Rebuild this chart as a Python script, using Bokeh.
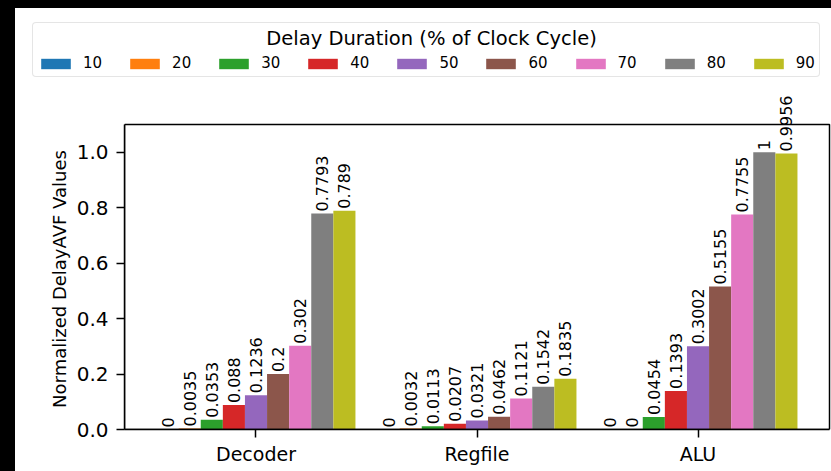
from math import pi
from bokeh.plotting import figure
from bokeh.layouts import column
from bokeh.core.properties import value
from bokeh.models import (ColumnDataSource, Range1d, FixedTicker, NumeralTickFormatter,
                          LabelSet, Legend, LegendItem, BoxAnnotation)
from bokeh.transform import dodge
from bokeh.embed import file_html
from bokeh.resources import INLINE
try:
    from bokeh.models import GlobalInlineStyleSheet
except Exception:
    GlobalInlineStyleSheet = None

# ---------------- data ----------------
categories = ["Decoder", "Regfile", "ALU"]
delay_labels = ["10", "20", "30", "40", "50", "60", "70", "80", "90"]
d10 = [0, 0, 0]
d20 = [0.0035, 0.0032, 0]
d30 = [0.0353, 0.0113, 0.0454]
d40 = [0.088, 0.0207, 0.1393]
d50 = [0.1236, 0.0321, 0.3002]
d60 = [0.2, 0.0462, 0.5155]
d70 = [0.302, 0.1121, 0.7755]
d80 = [0.7793, 0.1542, 1.0]
d90 = [0.789, 0.1835, 0.9956]
series = [d10, d20, d30, d40, d50, d60, d70, d80, d90]
colors = ["#1f77b4", "#ff7f0e", "#2ca02c", "#d62728", "#9467bd",
          "#8c564b", "#e377c2", "#7f7f7f", "#bcbd22"]
y_ticks = [0.0, 0.2, 0.4, 0.6, 0.8, 1.0]
legend_title = "Delay Duration (% of Clock Cycle)"
y_label = "Normalized DelayAVF Values"

FONT = "DejaVu Sans"
X_LO, X_HI = -0.595, 2.595      # axes box limits (categories at 0, 1, 2)
Y_LO, Y_HI = 0.0, 1.1

x_idx = list(range(len(categories)))
bar_w = 0.1
n = len(series)
sources = [ColumnDataSource(dict(x=x_idx, top=vals, text=[f"{v:g}" for v in vals]))
           for vals in series]
offsets = [(i - (n - 1) / 2) * bar_w for i in range(n)]

# ---------------- legend strip (top) ----------------
top = figure(width=831, height=85, output_backend="svg", toolbar_location=None,
             x_range=Range1d(X_LO, 2.604), y_range=Range1d(10, 11),
             x_axis_location=None, y_axis_location=None,
             min_border=0, border_fill_color=None, background_fill_color=None)
top.outline_line_color = None
top.xgrid.visible = False
top.ygrid.visible = False
handles = []
for src, off, lab, col in zip(sources, offsets, delay_labels, colors):
    # legend handles share the bar data; the strip's y range keeps them out of view
    h = top.vbar(x=dodge("x", off), top="top", width=bar_w, source=src,
                 fill_color=col, line_color=None)
    handles.append(LegendItem(label=lab, renderers=[h]))
legend = Legend(items=handles, orientation="horizontal", location=(32, 8),
                title="\u00a0" * 37 + legend_title,
                title_text_font=FONT, title_text_font_size="19.5px", title_text_color="black",
                title_text_font_style="normal", title_standoff=4,
                glyph_width=37, glyph_height=13, label_standoff=9, label_width=18,
                spacing=24, padding=4, margin=0,
                label_text_font=FONT, label_text_font_size="15px", label_text_color="black",
                border_line_color="#cccccc", border_line_width=1,
                background_fill_color="white", background_fill_alpha=0.8)
if "border_radius" in legend.properties():
    legend.border_radius = 4
top.add_layout(legend)

# ---------------- main chart ----------------
p = figure(width=831, height=386, output_backend="svg", toolbar_location=None,
           x_range=Range1d(X_LO, 2.604), y_range=Range1d(Y_LO, 1.23),
           min_border_left=124, min_border_right=0, min_border_top=3, min_border_bottom=42,
           border_fill_color=None, background_fill_color="white")
p.outline_line_color = None
p.xgrid.visible = False
p.ygrid.visible = False

for f in (top, p):
    if "frame_align" in f.properties():
        f.frame_align = False

p.add_layout(BoxAnnotation(left=X_LO, right=X_HI, bottom=Y_LO, top=Y_HI,
                           fill_color=None, line_color="black", line_alpha=1.0,
                           line_width=1.5))

for src, off, col in zip(sources, offsets, colors):
    p.vbar(x=dodge("x", off), top="top", width=bar_w, source=src,
           fill_color=col, line_color=None)
    p.add_layout(LabelSet(x=dodge("x", off), y="top", text="text", source=src, angle=pi / 2,
                          text_align="left", text_baseline="middle", y_offset=2,
                          text_font_size=value("16px"), text_font=value(FONT),
                          text_color="black"))

for ax in (p.xaxis[0], p.yaxis[0]):
    ax.axis_line_color = "black"
    ax.axis_line_width = 1.5
    ax.major_tick_line_color = "black"
    ax.major_tick_line_width = 1.5
    ax.major_tick_out = 8
    ax.major_tick_in = 0
    ax.minor_tick_out = 0
    ax.minor_tick_in = 0
    ax.major_label_text_font = FONT
    ax.major_label_text_color = "black"

p.xaxis.bounds = (X_LO, X_HI)
p.xaxis.ticker = FixedTicker(ticks=x_idx)
p.xaxis.major_label_overrides = {i: c for i, c in enumerate(categories)}
p.xaxis.major_label_text_font_size = "19px"
p.xaxis.major_label_standoff = 5

p.yaxis.bounds = (Y_LO, Y_HI)
p.yaxis.ticker = FixedTicker(ticks=y_ticks)
p.yaxis.formatter = NumeralTickFormatter(format="0.0")
p.yaxis.major_label_text_font_size = "20px"
p.yaxis.major_label_standoff = 8
p.yaxis.axis_label = y_label + "\u00a0" * 7
p.yaxis.axis_label_text_font = FONT
p.yaxis.axis_label_text_font_size = "18px"
p.yaxis.axis_label_text_font_style = "normal"
p.yaxis.axis_label_text_color = "black"
p.yaxis.axis_label_standoff = 4

layout = column(top, p, spacing=0)
if GlobalInlineStyleSheet is not None:
    p.stylesheets = [GlobalInlineStyleSheet(css=(
        "html{background:linear-gradient(to right,#000 0,#000 15px,transparent 15px),"
        "linear-gradient(to bottom,#000 0,#000 8px,#fff 8px);}"))]

open("out.html", "w").write(file_html(layout, INLINE))
